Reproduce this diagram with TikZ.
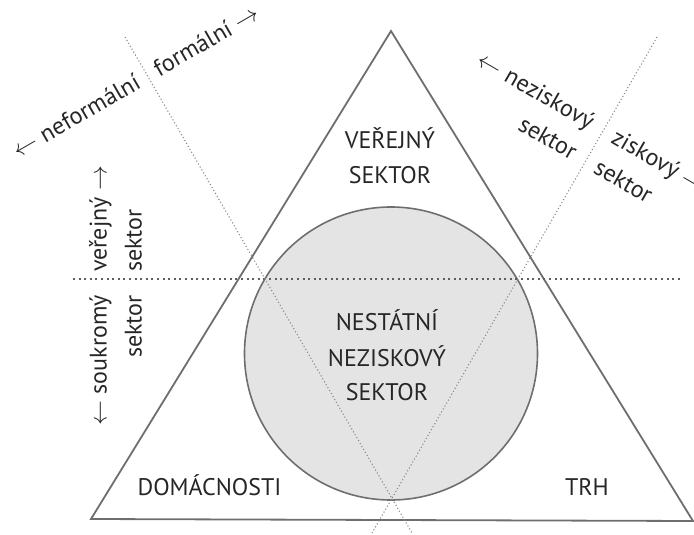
\documentclass[tikz,border=0pt]{standalone}
\usepackage{fontspec}
\setmainfont{PT Sans}
\definecolor{txt}{HTML}{262626}
\definecolor{edge}{HTML}{6E6E6E}
\definecolor{circfill}{HTML}{E4E4E4}
\definecolor{dotc}{HTML}{5E5E5E}
\definecolor{diagc}{HTML}{8A8A8A}
\tikzset{
  lbl/.style={font=\fontsize{24}{28}\selectfont, text=txt, inner sep=0pt},
  rlbl/.style={lbl, text height=0.75em, text depth=0.25em},
  tri/.style={draw=edge, line width=1.8pt, line join=miter},
  circ/.style={draw=edge, line width=1.6pt, fill=circfill},
  hdots/.style={draw=dotc, line width=2pt, dash pattern=on 1.9pt off 3.7pt},
  ddots/.style={draw=diagc, line width=1.1pt, dash pattern=on 1.1pt off 2.3pt}
}
\begin{document}
\begin{tikzpicture}[x=1pt,y=-1pt]
\useasboundingbox (0,0) rectangle (694,535);
% coordinates
\coordinate (A) at (391,31);
\coordinate (B) at (91,519);
\coordinate (C) at (693,521);
\coordinate (O) at (391,353.5);
\coordinate (h1) at (73,279);
\coordinate (h2) at (680,279);
\coordinate (l1) at (125,37);
\coordinate (l2) at (412,533);
\coordinate (r1) at (657,37);
\coordinate (r2) at (372,533);
% circle
\path[circ] (O) circle[radius=146.5pt];
% triangle
\draw[tri] (A) -- (B) -- (C) -- cycle;
% dotted lines
\draw[hdots] (h1) -- (h2);
\draw[ddots] (l1) -- (l2);
\draw[ddots] (r1) -- (r2);
% centred labels
\node[lbl, anchor=base] (v1) at (390,148) {VEŘEJNÝ};
\node[lbl, anchor=base] (v2) at (390,183) {SEKTOR};
\node[lbl, anchor=base] (n1) at (387,330) {NESTÁTNÍ};
\node[lbl, anchor=base] (n2) at (387,366) {NEZISKOVÝ};
\node[lbl, anchor=base] (n3) at (387,400) {SEKTOR};
\node[lbl, anchor=base] (dom) at (209.5,495) {DOMÁCNOSTI};
\node[lbl, anchor=base] (trh) at (587,495) {TRH};
% rotated labels (top left)
\node[rlbl, rotate=30, anchor=east] (nf) at (141,85) {$\leftarrow$ neformální};
\node[rlbl, rotate=30, anchor=west] (fo) at (158,75) {formální $\rightarrow$};
% rotated labels (top right)
\node[rlbl, rotate=-30, anchor=east] (nz1) at (590,128) {$\leftarrow$ neziskový};
\node[rlbl, rotate=-30, anchor=east] (nz2) at (572.5,158.3) {sektor};
\node[rlbl, rotate=-30, anchor=west] (zs1) at (611,140) {ziskový $\rightarrow$};
\node[rlbl, rotate=-30, anchor=west] (zs2) at (593.5,170.3) {sektor};
% rotated labels (left)
\node[rlbl, rotate=90, anchor=west] (ve1) at (104,272) {veřejný $\rightarrow$};
\node[rlbl, rotate=90, anchor=west] (ve2) at (139,272) {sektor};
\node[rlbl, rotate=90, anchor=east] (so1) at (104,295) {$\leftarrow$ soukromý};
\node[rlbl, rotate=90, anchor=east] (so2) at (139,295) {sektor};
\end{tikzpicture}
\end{document}
